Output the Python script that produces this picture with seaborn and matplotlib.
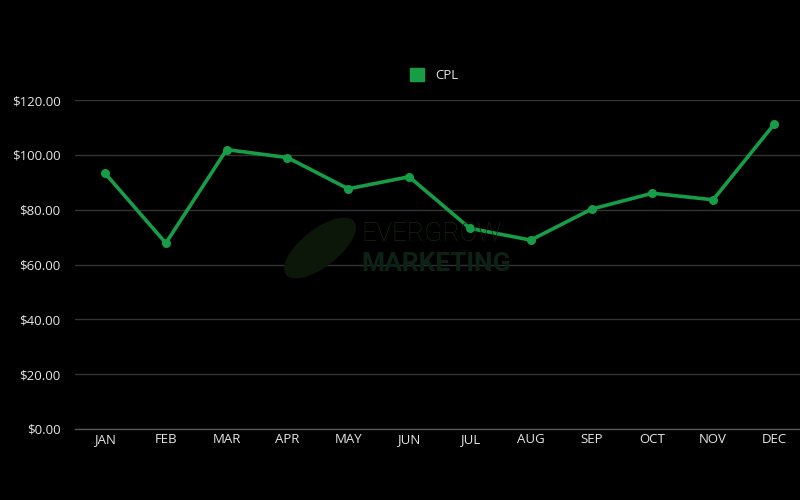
import matplotlib
matplotlib.use("Agg")
import matplotlib.pyplot as plt
import seaborn as sns
import pandas as pd
from matplotlib.patches import Ellipse, Rectangle
from matplotlib.ticker import FuncFormatter

months = ["JAN", "FEB", "MAR", "APR", "MAY", "JUN", "JUL", "AUG", "SEP", "OCT", "NOV", "DEC"]
cpl = [93.3, 67.8, 101.9, 99.0, 87.6, 92.0, 73.2, 68.9, 80.2, 86.0, 83.6, 111.1]
yticks = [0, 20, 40, 60, 80, 100, 120]

df = pd.DataFrame({"month": months, "CPL": cpl})

sns.set_theme(style="dark")
plt.rcParams["font.family"] = ["Open Sans", "DejaVu Sans"]

GREEN = "#179c48"
fig = plt.figure(figsize=(8, 5), dpi=100, facecolor="black")
ax = fig.add_axes([74.6 / 800, 71 / 500, 729.8 / 800, 329 / 500])
ax.set_facecolor("black")

# watermark (leaf + wordmark)
leaf = Ellipse((3.20, 2.52), 0.85, 0.36, angle=38, transform=fig.dpi_scale_trans,
               color="#0c170a", zorder=0)
fig.patches.append(leaf)
fig.text(0.452, 0.532, "EVERGROW", color="#18240f", fontsize=19, family="Roboto",
         fontweight="light", va="center", ha="left", zorder=0)
fig.text(0.452, 0.472, "MARKETING", color="#0c2214", fontsize=19, family="Roboto",
         fontweight="bold", va="center", ha="left", zorder=0)

sns.lineplot(data=df, x="month", y="CPL", ax=ax, color=GREEN, linewidth=2.6,
             marker="o", markersize=6.5, markeredgewidth=0, sort=False,
             zorder=3)

ax.set_xlim(-0.5, len(months) - 0.5)
ax.set_ylim(0, 120)
ax.set_yticks(yticks)
ax.yaxis.set_major_formatter(FuncFormatter(lambda v, p: f"${v:,.2f}"))
ax.grid(axis="y", color="#333333", linewidth=1)
ax.grid(axis="x", visible=False)
for s in ["top", "right", "left"]:
    ax.spines[s].set_visible(False)
ax.spines["bottom"].set_color("#555555")
ax.spines["bottom"].set_linewidth(1)
ax.tick_params(axis="both", colors="#e6e6e6", labelsize=9.5, length=0)
ax.tick_params(axis="x", pad=3)
ax.tick_params(axis="y", pad=10)
ax.set_xlabel("")
ax.set_ylabel("")

sq = Rectangle((0, 0), 1, 1, color=GREEN)
leg = ax.legend([sq], ["CPL"], loc="center", bbox_to_anchor=(434 / 800, 1 - 75 / 500),
                bbox_transform=fig.transFigure, frameon=False, handlelength=1.1,
                handleheight=1.1, handletextpad=0.8, fontsize=9.5)
for t in leg.get_texts():
    t.set_color("#e6e6e6")

fig.savefig("out.png", dpi=100, facecolor="black")
